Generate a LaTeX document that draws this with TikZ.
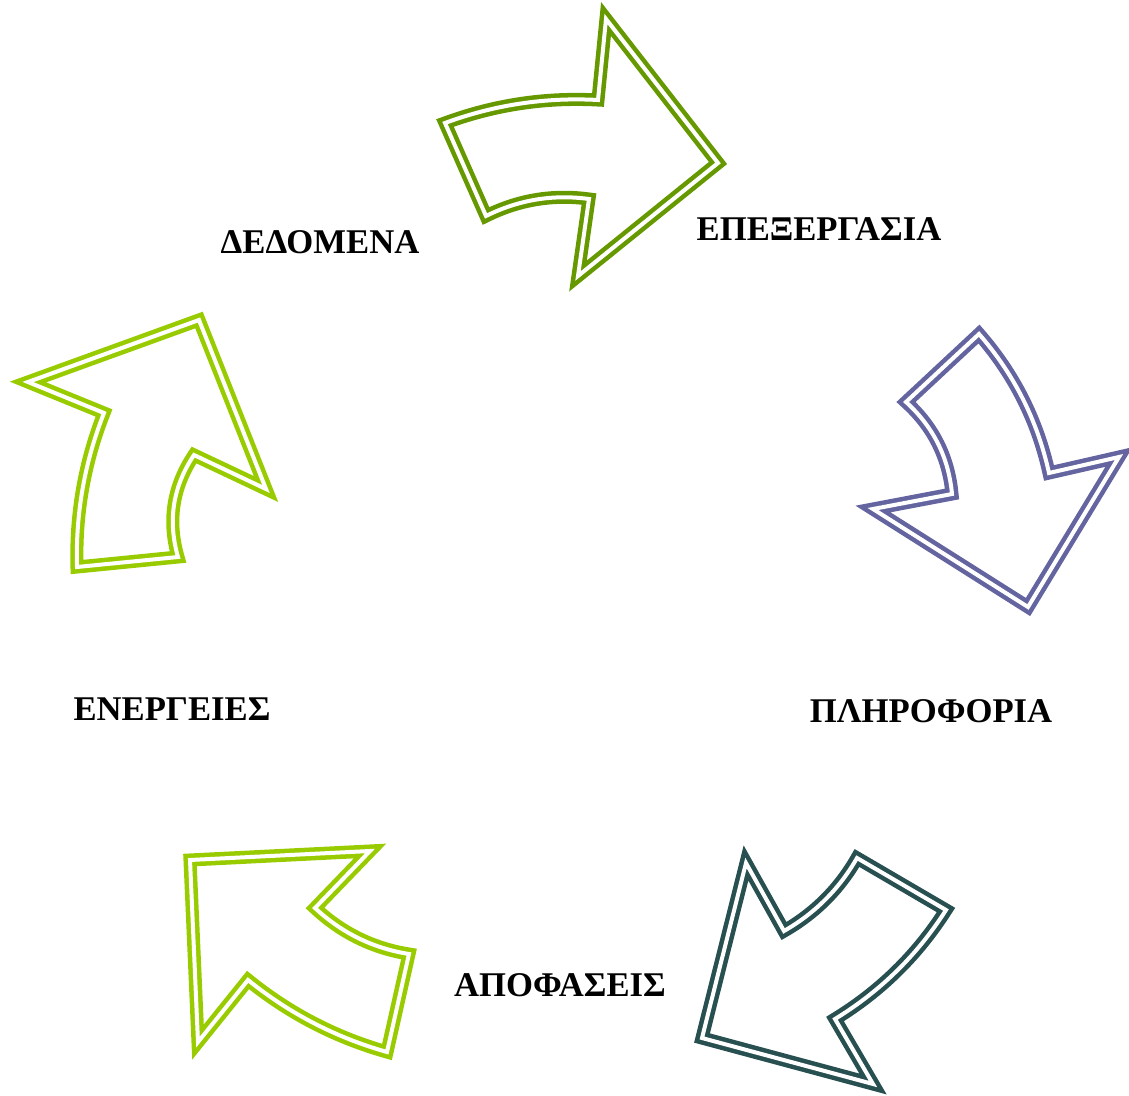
\documentclass[tikz,border=0pt]{standalone}
\usepackage{fontspec}
\setmainfont{Liberation Serif}
\definecolor{darkgr}{RGB}{102,153,0}
\definecolor{slate}{RGB}{100,100,160}
\definecolor{teal2}{RGB}{40,80,80}
\definecolor{lime}{RGB}{153,204,0}
\begin{document}
\begin{tikzpicture}[x=0.75pt,y=-0.75pt,
  arrowshape/.style={line width=3.4pt,double=white,double distance=3pt,line join=miter,miter limit=20},
  lbl/.style={anchor=base,inner sep=0pt,font=\fontsize{26}{31}\selectfont\bfseries}]
\useasboundingbox (0,0) rectangle (1129,1096);
% arrow 1 (top, dark green)
\draw[arrowshape,draw=darkgr] (445,123) .. controls (494.4,104.8) and (545.4,97.1) .. (598,100) -- (606,19) -- (718,163) -- (578,276) -- (589,199) .. controls (552.9,194.1) and (518.6,199.8) .. (486,216) -- cycle;
% arrow 2 (right, slate)
\draw[arrowshape,draw=slate] (979,334) -- (906,402) .. controls (933.3,426.7) and (948.6,457.4) .. (952,494) -- (873,509) -- (1028,607) -- (1119,457) -- (1049,473) .. controls (1037.5,420.7) and (1014.2,374.3) .. cycle;
% arrow 3 (bottom right, teal)
\draw[arrowshape,draw=teal2] (746,863) -- (784,931) .. controls (814.9,913.3) and (839.3,888.9) .. (857,858) -- (946,910) .. controls (917.4,954.9) and (880.4,991.2) .. (835,1019) -- (873,1084) -- (702,1038) -- cycle;
% arrow 4 (bottom left, lime)
\draw[arrowshape,draw=lime] (190,860) -- (370,851) -- (315,908) .. controls (341.7,932.9) and (373,948.3) .. (409,954) -- (387,1052) .. controls (335.7,1037.5) and (289.4,1013.5) .. (248,980) -- (198,1042) -- cycle;
% arrow 5 (left, lime)
\draw[arrowshape,draw=lime] (28,382) -- (199,320) -- (266,489) -- (194,455) .. controls (172.9,486.5) and (167.5,520.5) .. (178,557) -- (77,567) .. controls (75.5,513.8) and (84.5,462.5) .. (104,413) -- cycle;
% labels
\node[lbl] (dedomena) at (320,253) {ΔΕΔΟΜΕΝΑ};
\node[lbl] (epex) at (819,240) {ΕΠΕΞΕΡΓΑΣΙΑ};
\node[lbl] (pliro) at (931,722) {ΠΛΗΡΟΦΟΡΙΑ};
\node[lbl] (apof) at (560,996) {ΑΠΟΦΑΣΕΙΣ};
\node[lbl] (energ) at (172,720) {ΕΝΕΡΓΕΙΕΣ};
\end{tikzpicture}
\end{document}
